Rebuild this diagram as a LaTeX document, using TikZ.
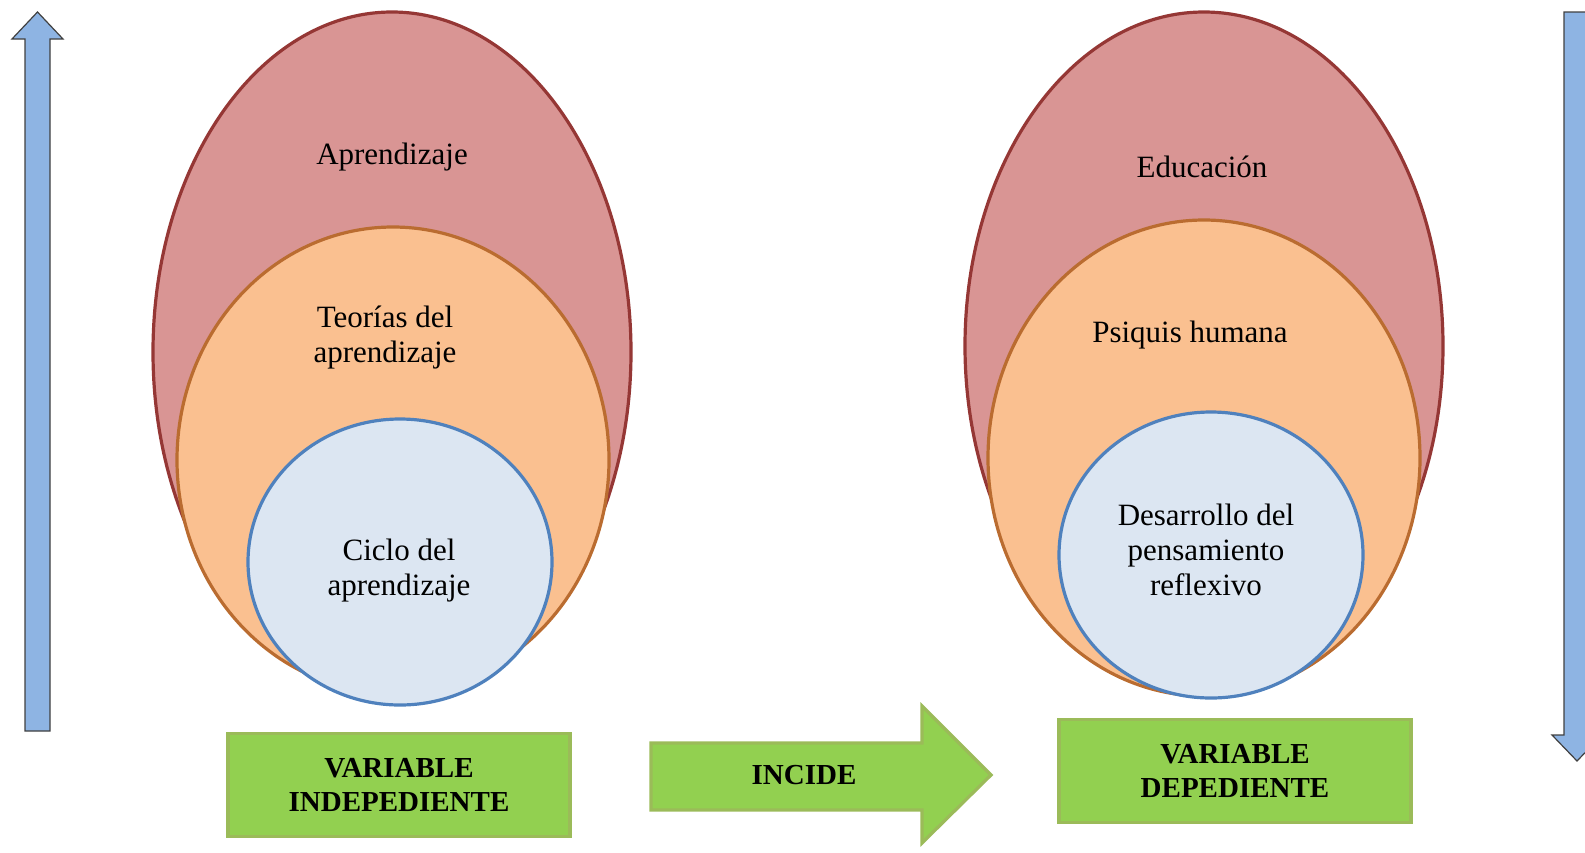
\documentclass[tikz,border=0pt]{standalone}
\usepackage{fontspec}
\setmainfont{Liberation Serif}
\usepackage{tikz}
\usetikzlibrary{positioning}

\definecolor{outerfill}{RGB}{217,149,148}
\definecolor{outerline}{RGB}{149,55,53}
\definecolor{midfill}{RGB}{250,192,144}
\definecolor{midline}{RGB}{186,108,48}
\definecolor{innerfill}{RGB}{220,230,242}
\definecolor{innerline}{RGB}{79,129,189}
\definecolor{boxfill}{RGB}{146,208,80}
\definecolor{boxline}{RGB}{155,187,89}
\definecolor{arrowfill}{RGB}{142,180,227}
\definecolor{arrowline}{RGB}{64,64,64}

\tikzset{
  outerset/.style={draw=outerline, fill=outerfill, line width=1.6pt},
  midset/.style={draw=midline, fill=midfill, line width=1.6pt},
  innerset/.style={draw=innerline, fill=innerfill, line width=1.6pt},
  circtext/.style={align=center, font=\fontsize{15.5}{17.5}\selectfont},
  varbox/.style={draw=boxline, fill=boxfill, line width=1.6pt, minimum width=171pt, minimum height=51.5pt, align=center, font=\fontsize{14.5}{17}\selectfont\bfseries},
  sidearrow/.style={draw=arrowline, fill=arrowfill, line width=0.6pt}
}

\begin{document}
\begin{tikzpicture}[x=0.5pt, y=-0.5pt]
            \useasboundingbox (0,0) rectangle (1585,852);
            % left side
            \draw [outerset](392,352) ellipse [x radius=239, y radius=340];
            \draw [midset](393,460) ellipse [x radius=216, y radius=233];
            \draw [innerset](400,562) ellipse [x radius=152, y radius=143];
            \node [circtext] (aprend) at (392,157) {Aprendizaje};
            \node [circtext] (teorias) at (385,338) {Teorías del\\aprendizaje};
            \node [circtext] (ciclo) at (399,571) {Ciclo del\\aprendizaje};
            % right side
            \draw [outerset](1204,346) ellipse [x radius=239, y radius=334];
            \draw [midset](1204,458) ellipse [x radius=216, y radius=238];
            \draw [innerset](1211,555) ellipse [x radius=152, y radius=143];
            \node [circtext] (educ) at (1202,167) {Educación};
            \node [circtext] (psiquis) at (1190,335) {Psiquis humana};
            \node [circtext] (desarrollo) at (1206,550) {Desarrollo del\\pensamiento\\reflexivo};
            % variables
            \node [varbox] (indep) at (399,785) {VARIABLE\\INDEPEDIENTE};
            \node [varbox, minimum width=176pt] (dep) at (1235,771) {VARIABLE\\DEPEDIENTE};
            % incide
            \draw [draw=boxline, fill=boxfill, line width=1.6pt](651,743)--(922,743)--(922,706)--(991,775)--(922,843)--(922,810)--(651,810)--cycle;
            \node [font=\fontsize{14.5}{17}\selectfont\bfseries] (incide) at (804,775) {INCIDE};
            % side arrows
            \draw [sidearrow](25,731)--(25,39)--(12,39)--(37.5,12)--(63,39)--(50,39)--(50,731)--cycle;
            \fill [arrowfill](1585,12)--(1564,12)--(1564,735)--(1552,735)--(1577,761)--(1585,752.7)--cycle;
            \draw [arrowline, line width=0.6pt](1585,12)--(1564,12)--(1564,735)--(1552,735)--(1577,761)--(1585,752.7);
\end{tikzpicture}
\end{document}
